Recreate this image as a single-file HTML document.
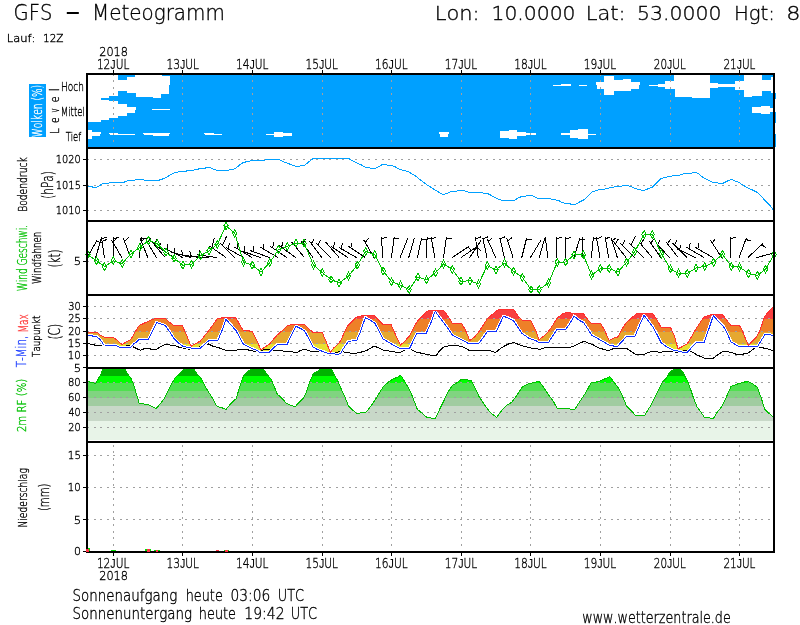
<!DOCTYPE html><html><head><meta charset="utf-8"><style>html,body{margin:0;padding:0;background:#fff;}svg{display:block}text{font-family:'DejaVu Sans', 'Liberation Sans', sans-serif;font-weight:200;font-kerning:none;stroke-width:0.35px;}</style></head><body>
<svg width="800" height="625" viewBox="0 0 800 625">
<rect x="0" y="0" width="800" height="625" fill="#fff"/>
<g shape-rendering="crispEdges"><rect x="88" y="75" width="685" height="72" fill="#00a0ff"/>
<rect x="88.00" y="75.00" width="13.00" height="46.80" fill="#fff"/>
<rect x="101.00" y="75.00" width="8.00" height="22.90" fill="#fff"/>
<rect x="101.00" y="99.90" width="8.00" height="19.90" fill="#fff"/>
<rect x="109.00" y="75.00" width="8.50" height="20.90" fill="#fff"/>
<rect x="109.00" y="101.00" width="8.50" height="17.00" fill="#fff"/>
<rect x="117.50" y="80.00" width="9.00" height="11.10" fill="#fff"/>
<rect x="117.50" y="103.80" width="9.00" height="12.20" fill="#fff"/>
<rect x="126.50" y="77.00" width="8.50" height="16.00" fill="#fff"/>
<rect x="126.50" y="107.00" width="8.50" height="6.00" fill="#fff"/>
<rect x="135.00" y="75.00" width="1.00" height="18.25" fill="#fff"/>
<rect x="135.00" y="107.00" width="1.00" height="3.00" fill="#fff"/>
<rect x="136.00" y="75.00" width="17.00" height="22.00" fill="#fff"/>
<rect x="153.00" y="75.00" width="8.00" height="22.75" fill="#fff"/>
<rect x="161.00" y="75.00" width="1.20" height="18.90" fill="#fff"/>
<rect x="162.20" y="75.90" width="6.80" height="18.00" fill="#fff"/>
<rect x="169.00" y="75.90" width="1.00" height="8.90" fill="#fff"/>
<rect x="152.20" y="108.90" width="17.80" height="1.10" fill="#fff"/>
<rect x="88.00" y="130.00" width="4.00" height="9.00" fill="#fff"/>
<rect x="88.00" y="132.00" width="13.00" height="2.00" fill="#fff"/>
<rect x="88.00" y="134.00" width="12.00" height="2.00" fill="#fff"/>
<rect x="109.20" y="132.80" width="8.80" height="1.20" fill="#fff"/>
<rect x="110.00" y="134.00" width="25.00" height="1.00" fill="#fff"/>
<rect x="143.00" y="132.90" width="27.00" height="1.00" fill="#fff"/>
<rect x="144.00" y="133.90" width="25.00" height="1.10" fill="#fff"/>
<rect x="153.00" y="135.00" width="16.00" height="1.00" fill="#fff"/>
<rect x="204.00" y="132.90" width="10.00" height="1.00" fill="#fff"/>
<rect x="205.00" y="133.90" width="17.00" height="1.00" fill="#fff"/>
<rect x="266.00" y="133.90" width="9.00" height="1.00" fill="#fff"/>
<rect x="274.40" y="132.00" width="8.70" height="4.75" fill="#fff"/>
<rect x="283.00" y="132.90" width="9.00" height="2.85" fill="#fff"/>
<rect x="439.00" y="132.00" width="10.00" height="2.00" fill="#fff"/>
<rect x="440.00" y="134.00" width="8.00" height="2.75" fill="#fff"/>
<rect x="500.00" y="131.00" width="8.50" height="7.00" fill="#fff"/>
<rect x="508.50" y="130.00" width="8.50" height="9.00" fill="#fff"/>
<rect x="517.00" y="132.00" width="9.00" height="4.00" fill="#fff"/>
<rect x="526.00" y="133.00" width="10.00" height="1.50" fill="#fff"/>
<rect x="553.00" y="84.75" width="8.00" height="1.00" fill="#fff"/>
<rect x="561.00" y="84.00" width="10.00" height="1.75" fill="#fff"/>
<rect x="579.00" y="84.75" width="8.00" height="1.00" fill="#fff"/>
<rect x="596.00" y="82.00" width="9.00" height="3.00" fill="#fff"/>
<rect x="597.00" y="85.00" width="8.00" height="4.00" fill="#fff"/>
<rect x="604.40" y="76.00" width="9.60" height="18.75" fill="#fff"/>
<rect x="614.00" y="79.75" width="8.50" height="11.00" fill="#fff"/>
<rect x="622.50" y="79.00" width="8.50" height="11.75" fill="#fff"/>
<rect x="631.00" y="82.00" width="9.00" height="3.00" fill="#fff"/>
<rect x="631.00" y="85.00" width="8.00" height="4.00" fill="#fff"/>
<rect x="561.00" y="133.00" width="10.00" height="1.50" fill="#fff"/>
<rect x="570.00" y="130.00" width="8.75" height="8.00" fill="#fff"/>
<rect x="578.00" y="129.00" width="9.75" height="10.00" fill="#fff"/>
<rect x="587.00" y="133.60" width="9.00" height="1.30" fill="#fff"/>
<rect x="649.00" y="84.75" width="8.50" height="1.00" fill="#fff"/>
<rect x="657.50" y="84.00" width="8.10" height="2.75" fill="#fff"/>
<rect x="665.00" y="81.00" width="9.00" height="8.00" fill="#fff"/>
<rect x="673.75" y="75.00" width="1.25" height="14.00" fill="#fff"/>
<rect x="675.00" y="75.00" width="17.00" height="22.00" fill="#fff"/>
<rect x="692.00" y="75.00" width="18.00" height="22.60" fill="#fff"/>
<rect x="709.00" y="83.00" width="9.00" height="4.60" fill="#fff"/>
<rect x="718.00" y="83.90" width="18.00" height="3.10" fill="#fff"/>
<rect x="735.00" y="80.70" width="10.00" height="9.30" fill="#fff"/>
<rect x="744.00" y="75.00" width="18.00" height="20.70" fill="#fff"/>
<rect x="744.00" y="95.70" width="8.00" height="1.30" fill="#fff"/>
<rect x="762.00" y="79.50" width="9.00" height="11.90" fill="#fff"/>
<rect x="771.00" y="77.00" width="2.00" height="15.60" fill="#fff"/>
<rect x="752.00" y="107.00" width="9.00" height="6.00" fill="#fff"/>
<rect x="761.00" y="106.00" width="9.00" height="7.80" fill="#fff"/>
<rect x="770.00" y="108.00" width="3.00" height="4.00" fill="#fff"/>
</g>
<defs><clipPath id="tband"><polygon points="88.00,332.20 96.40,332.20 98.40,333.40 100.80,335.40 104.40,337.40 113.20,337.40 116.40,339.60 122.00,344.60 126.00,342.00 130.40,340.00 133.20,335.60 136.00,330.60 139.10,325.60 143.50,323.50 148.50,321.25 152.25,319.40 156.00,318.50 165.40,318.50 169.75,322.50 174.10,325.60 182.25,325.60 186.00,333.75 191.00,346.25 196.00,343.50 200.40,341.00 204.75,335.60 209.75,329.40 217.25,318.75 223.50,317.50 236.00,317.70 238.50,322.50 242.90,330.00 247.25,330.60 252.25,331.50 256.60,340.00 261.00,350.00 266.00,346.25 269.75,344.00 272.25,340.60 277.25,335.00 282.25,330.60 287.25,325.60 292.25,324.40 304.10,324.40 307.90,327.75 312.90,332.50 322.25,332.50 326.00,341.25 330.40,352.50 333.50,348.10 336.00,346.25 340.40,341.25 343.50,334.40 347.25,326.25 351.60,321.90 356.00,317.50 359.75,316.25 363.50,315.25 374.10,315.25 378.50,320.00 382.90,324.40 391.00,324.40 395.40,334.40 400.40,345.00 404.75,341.25 409.75,335.60 413.50,328.10 417.25,321.25 422.25,316.25 426.60,311.50 431.00,310.25 443.50,310.25 447.90,316.25 452.25,323.10 461.60,323.10 465.40,330.00 469.75,340.60 474.75,336.90 479.75,330.60 487.25,318.75 492.25,314.40 497.25,310.25 501.00,309.40 513.50,309.40 519.10,317.50 522.25,320.00 530.40,320.00 536.00,331.25 539.10,339.75 543.50,336.25 548.50,331.25 552.90,325.00 557.25,318.10 561.60,314.40 566.00,312.50 569.75,312.50 571.00,313.10 582.90,313.10 586.60,318.10 591.00,323.10 600.40,323.10 604.75,330.60 609.10,340.60 613.50,338.10 617.90,336.90 622.25,328.75 626.00,323.10 631.00,318.50 636.00,314.00 640.40,313.10 652.25,313.10 656.00,318.10 661.00,327.25 670.40,327.25 674.10,335.00 677.90,348.75 682.90,346.25 687.25,343.75 691.00,337.50 696.00,328.75 699.75,323.10 704.10,316.90 711.00,314.60 722.40,314.60 726.00,319.20 731.00,325.60 739.50,325.60 742.00,330.00 746.00,340.00 748.50,345.50 752.00,341.50 756.00,337.50 759.00,332.50 762.00,324.50 764.50,316.50 768.00,312.50 773.00,307.00 774.50,335.50 770.00,334.80 765.00,334.50 761.00,341.00 758.00,346.00 738.00,346.00 731.00,342.00 727.25,333.50 723.30,326.10 718.30,321.10 713.30,315.80 708.50,330.00 704.10,342.25 696.60,342.25 691.60,347.50 687.25,352.50 683.50,352.50 679.10,351.25 673.50,350.25 666.00,346.50 661.00,342.50 656.60,333.75 652.90,326.90 648.50,321.25 644.10,315.25 639.75,325.00 636.00,333.75 634.75,336.25 626.60,336.25 622.25,341.25 617.90,346.00 613.50,346.00 609.10,345.00 599.75,339.75 591.60,335.00 587.25,328.10 583.50,322.50 579.75,320.60 574.10,316.25 569.75,323.75 566.00,329.00 557.25,329.00 548.50,342.50 538.50,342.50 536.00,340.60 529.75,338.75 521.60,333.10 513.50,320.60 508.50,318.10 503.50,316.25 496.00,331.90 487.25,331.90 478.50,344.00 469.10,343.75 457.90,338.10 452.25,335.00 447.25,327.50 441.60,320.00 435.20,311.20 431.00,322.50 426.00,333.75 416.60,334.00 409.75,348.10 399.10,348.10 391.00,343.75 382.90,338.75 379.10,331.25 374.75,323.10 369.75,320.00 365.40,317.50 360.40,331.90 356.60,340.60 348.50,341.25 344.10,347.50 340.40,353.75 336.00,354.40 332.25,353.10 328.50,353.50 322.25,351.25 317.25,349.40 312.90,346.90 308.50,338.10 304.75,331.25 301.00,328.75 296.00,326.25 291.60,335.00 287.25,344.00 277.90,344.00 273.50,348.10 269.10,352.25 259.75,352.25 256.00,350.00 251.00,348.10 243.50,344.40 239.75,337.50 236.00,330.60 231.00,325.00 226.00,319.40 222.25,330.00 217.90,340.25 209.10,340.25 204.75,344.40 200.40,348.10 191.00,348.10 182.90,346.25 178.50,343.10 174.10,338.75 169.75,331.90 165.40,325.60 161.00,324.00 156.60,322.50 152.25,331.25 148.50,339.40 139.10,339.40 136.00,342.50 134.00,343.60 130.80,347.40 120.40,347.40 117.20,346.40 115.60,345.20 104.00,345.00 100.00,339.60 96.40,336.40 92.40,336.20 92.00,335.60 88.00,335.40"/></clipPath>
<clipPath id="rhclip"><polygon points="87.90,381.10 91.00,382.40 96.00,383.30 98.00,379.50 101.00,374.00 103.00,369.25 125.00,369.25 128.00,374.50 131.00,378.50 133.00,383.00 135.50,391.00 139.10,403.00 141.60,403.60 147.90,404.50 156.00,408.60 161.00,403.00 165.40,396.75 169.10,388.60 172.90,381.75 176.00,376.75 181.00,371.75 183.50,369.25 186.00,368.90 190.40,368.40 194.10,369.75 197.25,374.10 201.60,379.10 204.75,385.40 207.90,391.00 212.25,397.90 216.60,406.00 219.10,407.00 222.25,407.90 226.00,409.50 230.40,404.10 236.00,398.75 238.50,391.00 241.60,381.00 244.10,374.75 248.50,371.00 252.90,368.60 259.75,368.40 263.50,368.90 267.25,374.75 271.00,379.10 273.50,384.75 277.25,394.10 282.25,398.50 286.00,403.10 290.40,405.40 295.40,406.60 298.50,402.90 302.90,398.75 306.00,392.90 309.10,383.50 312.90,374.75 313.50,373.25 317.25,371.60 321.00,369.10 331.60,369.10 334.10,374.75 337.25,379.75 341.00,388.50 344.75,396.60 348.50,406.00 352.25,409.75 356.60,413.50 361.00,412.90 366.00,412.25 371.00,406.00 376.00,398.50 379.75,392.25 383.50,386.60 386.00,384.10 389.10,381.60 392.90,379.10 397.25,377.25 400.75,375.40 404.75,381.60 408.50,387.90 412.25,396.00 417.25,409.10 421.60,412.90 426.60,417.25 430.40,417.25 431.60,418.25 435.40,418.25 439.75,409.10 443.50,401.60 447.25,393.50 452.25,385.40 456.00,383.25 461.00,379.75 464.10,379.10 466.00,379.75 471.00,380.40 474.75,387.25 479.10,396.60 482.90,402.25 486.00,407.00 491.00,413.25 496.60,417.25 502.25,409.75 506.60,405.40 511.60,402.25 517.25,394.75 522.25,387.25 524.75,385.40 529.10,383.75 533.50,382.50 539.10,381.25 543.50,387.25 548.50,394.75 553.50,401.60 557.25,408.50 568.50,408.50 571.00,409.50 574.75,409.50 579.75,401.60 586.00,392.25 591.00,382.90 598.50,381.60 603.50,379.50 609.75,376.60 616.00,384.75 619.10,389.10 622.90,397.25 626.60,406.00 631.00,410.40 635.40,415.40 644.75,415.40 650.40,406.00 654.75,397.90 658.50,390.40 662.25,382.25 666.00,378.50 668.50,374.10 672.25,370.40 677.90,368.20 682.25,371.00 686.00,378.50 687.90,381.60 691.00,390.40 693.50,397.90 697.25,407.25 701.00,412.25 704.10,417.00 708.50,417.25 711.00,418.25 713.50,418.25 717.25,412.25 722.25,406.00 726.00,397.90 731.00,386.60 736.00,384.50 742.25,382.50 747.90,381.25 752.25,383.50 757.25,387.25 761.00,397.25 764.75,409.10 768.50,412.90 773.50,417.25 773.50,440.00 88.00,440.00 88.00,381.00"/></clipPath></defs>
<g clip-path="url(#tband)" shape-rendering="crispEdges">
<rect x="88" y="296" width="685" height="22.5" fill="#f84040"/>
<rect x="88" y="318.5" width="685" height="13.0" fill="#ee8028"/>
<rect x="88" y="331.5" width="685" height="12.0" fill="#e6a830"/>
<rect x="88" y="343.5" width="685" height="23.5" fill="#e8e030"/>
</g>
<g clip-path="url(#rhclip)" shape-rendering="crispEdges">
<rect x="88" y="369" width="685" height="6.75" fill="#00b400"/>
<rect x="88" y="375.75" width="685" height="7.25" fill="#00ff00"/>
<rect x="88" y="383" width="685" height="8" fill="#50e050"/>
<rect x="88" y="391" width="685" height="7.25" fill="#80d480"/>
<rect x="88" y="398.25" width="685" height="7.5" fill="#a0cca0"/>
<rect x="88" y="405.75" width="685" height="15.0" fill="#c8d8c8"/>
<rect x="88" y="420.75" width="685" height="19.25" fill="#e8f4e8"/>
</g>
<g stroke="#a0a0a0" stroke-width="1" shape-rendering="crispEdges">
<line x1="113.5" y1="73.5" x2="113.5" y2="147" stroke-dasharray="2,4.65"/>
<line x1="113.5" y1="443" x2="113.5" y2="551" stroke-dasharray="2,4.63" stroke-dashoffset="5.1"/>
<line x1="182.5" y1="73.5" x2="182.5" y2="147" stroke-dasharray="2,4.65"/>
<line x1="182.5" y1="443" x2="182.5" y2="551" stroke-dasharray="2,4.63" stroke-dashoffset="5.1"/>
<line x1="252.5" y1="73.5" x2="252.5" y2="147" stroke-dasharray="2,4.65"/>
<line x1="252.5" y1="443" x2="252.5" y2="551" stroke-dasharray="2,4.63" stroke-dashoffset="5.1"/>
<line x1="322.5" y1="73.5" x2="322.5" y2="147" stroke-dasharray="2,4.65"/>
<line x1="322.5" y1="443" x2="322.5" y2="551" stroke-dasharray="2,4.63" stroke-dashoffset="5.1"/>
<line x1="391.5" y1="73.5" x2="391.5" y2="147" stroke-dasharray="2,4.65"/>
<line x1="391.5" y1="443" x2="391.5" y2="551" stroke-dasharray="2,4.63" stroke-dashoffset="5.1"/>
<line x1="461.5" y1="73.5" x2="461.5" y2="147" stroke-dasharray="2,4.65"/>
<line x1="461.5" y1="443" x2="461.5" y2="551" stroke-dasharray="2,4.63" stroke-dashoffset="5.1"/>
<line x1="530.5" y1="73.5" x2="530.5" y2="147" stroke-dasharray="2,4.65"/>
<line x1="530.5" y1="443" x2="530.5" y2="551" stroke-dasharray="2,4.63" stroke-dashoffset="5.1"/>
<line x1="600.5" y1="73.5" x2="600.5" y2="147" stroke-dasharray="2,4.65"/>
<line x1="600.5" y1="443" x2="600.5" y2="551" stroke-dasharray="2,4.63" stroke-dashoffset="5.1"/>
<line x1="670.5" y1="73.5" x2="670.5" y2="147" stroke-dasharray="2,4.65"/>
<line x1="670.5" y1="443" x2="670.5" y2="551" stroke-dasharray="2,4.63" stroke-dashoffset="5.1"/>
<line x1="739.5" y1="73.5" x2="739.5" y2="147" stroke-dasharray="2,4.65"/>
<line x1="739.5" y1="443" x2="739.5" y2="551" stroke-dasharray="2,4.63" stroke-dashoffset="5.1"/>
<line x1="87" y1="159.5" x2="773" y2="159.5" stroke-dasharray="2,4.545"/>
<line x1="87" y1="185.5" x2="773" y2="185.5" stroke-dasharray="2,4.545"/>
<line x1="87" y1="210.5" x2="773" y2="210.5" stroke-dasharray="2,4.545"/>
<line x1="87" y1="261.5" x2="773" y2="261.5" stroke-dasharray="2,4.545"/>
<line x1="87" y1="306.5" x2="773" y2="306.5" stroke-dasharray="2,4.545"/>
<line x1="87" y1="318.5" x2="773" y2="318.5" stroke-dasharray="2,4.545"/>
<line x1="87" y1="331.5" x2="773" y2="331.5" stroke-dasharray="2,4.545"/>
<line x1="87" y1="343.5" x2="773" y2="343.5" stroke-dasharray="2,4.545"/>
<line x1="87" y1="355.5" x2="773" y2="355.5" stroke-dasharray="2,4.545"/>
<line x1="87" y1="382.5" x2="773" y2="382.5" stroke-dasharray="2,4.545"/>
<line x1="87" y1="397.5" x2="773" y2="397.5" stroke-dasharray="2,4.545"/>
<line x1="87" y1="412.5" x2="773" y2="412.5" stroke-dasharray="2,4.545"/>
<line x1="87" y1="427.5" x2="773" y2="427.5" stroke-dasharray="2,4.545"/>
<line x1="87" y1="455.5" x2="773" y2="455.5" stroke-dasharray="2,4.545"/>
<line x1="87" y1="487.5" x2="773" y2="487.5" stroke-dasharray="2,4.545"/>
<line x1="87" y1="519.5" x2="773" y2="519.5" stroke-dasharray="2,4.545"/>
</g>
<g shape-rendering="crispEdges"><polyline points="88.00,186.25 91.60,186.50 92.90,187.25 96.60,187.25 99.75,185.60 102.90,183.50 108.50,183.25 109.75,182.40 123.50,182.40 126.00,181.40 128.50,180.50 134.75,180.40 136.00,179.50 143.50,179.50 144.75,180.40 158.50,180.40 161.00,179.50 164.00,178.50 166.60,177.50 169.10,175.60 172.25,173.75 174.75,172.50 177.90,172.25 179.10,171.40 186.00,171.25 187.25,170.40 193.50,170.40 194.75,169.50 197.90,169.40 199.10,168.50 204.75,168.50 206.00,167.50 210.40,167.50 212.90,169.00 216.00,170.00 217.25,170.40 228.50,170.40 229.75,169.50 232.90,169.40 235.40,168.40 237.90,166.50 241.00,163.75 243.50,162.50 246.00,161.90 249.75,161.25 251.00,160.40 264.10,160.40 265.40,159.50 278.50,159.50 281.00,160.25 283.50,161.90 286.00,162.80 288.50,163.50 291.60,165.00 295.40,166.25 299.10,166.25 301.00,165.40 304.75,165.25 307.90,162.50 313.50,158.40 348.50,158.40 352.25,160.60 356.00,162.50 361.00,164.75 365.40,167.25 369.10,167.50 371.00,168.50 375.40,168.50 378.50,166.90 382.25,164.50 386.00,164.50 387.90,165.25 392.25,165.50 396.00,167.25 399.75,169.40 404.75,170.75 408.50,171.90 412.25,174.00 416.00,176.25 419.75,179.40 423.50,182.25 427.25,185.00 431.00,187.25 436.00,190.60 439.75,192.75 442.90,194.40 444.75,194.00 448.50,192.75 451.60,191.50 456.60,191.25 458.50,190.40 463.50,190.40 466.00,191.25 469.10,192.25 482.25,192.50 483.50,193.25 486.00,193.40 488.50,194.00 492.25,196.00 496.00,198.10 498.50,199.40 502.25,200.40 514.10,200.40 517.25,198.50 521.60,196.50 525.40,196.25 527.25,195.40 531.00,195.40 533.50,196.25 536.00,197.50 538.50,198.40 549.75,198.40 552.25,199.40 558.50,200.40 562.25,202.50 564.75,203.40 569.75,203.50 571.00,204.50 575.40,204.50 578.50,202.50 582.25,200.60 584.75,199.40 586.00,197.80 589.10,194.75 592.25,191.90 596.00,190.60 599.75,189.50 604.75,189.00 606.00,188.50 611.00,187.75 615.40,186.50 621.00,186.25 623.50,185.40 627.25,185.40 631.00,186.50 634.75,188.25 638.50,189.40 642.25,190.25 644.75,190.25 648.50,188.50 652.25,187.50 656.60,182.75 661.00,178.50 664.75,177.50 669.75,176.25 674.75,175.60 680.40,175.00 681.90,174.40 685.60,173.40 691.25,173.25 693.10,172.40 696.25,172.40 699.40,174.40 702.50,177.10 706.25,179.00 710.00,181.00 712.50,182.25 716.90,182.50 718.75,183.25 723.10,183.25 726.90,181.25 731.25,179.40 735.00,180.90 738.75,182.25 741.90,184.40 746.90,187.50 751.25,189.40 757.50,192.50 761.25,196.25 766.25,201.90 770.00,205.60 773.10,209.75 775.00,211.25" fill="none" stroke="#00a0ff" stroke-width="1"/></g>
<g shape-rendering="crispEdges" fill="none">
<polyline points="88.00,343.00 90.40,344.40 94.00,344.40 94.40,345.40 104.00,345.40 114.00,345.20 122.00,346.40 125.20,346.40 127.60,345.20 130.80,345.20 133.20,346.80 136.00,348.30 140.40,350.25 144.10,348.75 147.90,348.40 152.25,349.40 156.00,349.40 160.40,346.90 166.00,344.00 169.75,345.00 174.75,345.60 179.10,347.25 183.50,348.10 187.90,349.00 192.25,349.00 201.00,346.25 208.50,344.00 212.90,346.25 217.25,347.25 226.00,350.25 236.00,350.30 239.75,349.40 246.60,349.40 249.75,350.40 259.10,351.90 264.75,349.40 269.75,349.40 274.10,350.25 282.25,350.40 283.50,351.25 291.60,351.90 297.25,352.25 301.00,350.25 304.75,349.40 309.75,351.00 316.00,351.25 323.50,352.50 328.50,354.00 336.00,352.50 341.00,351.25 346.00,352.50 354.75,353.50 359.75,352.50 366.60,350.60 374.10,346.00 379.10,348.10 384.75,350.60 391.00,351.25 397.25,352.50 401.60,351.90 406.00,349.40 409.75,348.75 416.00,351.90 423.50,353.75 431.00,355.25 436.00,356.00 439.75,350.60 443.50,347.25 451.00,345.25 456.00,345.60 462.25,346.50 469.10,350.25 488.50,350.25 495.40,352.50 502.25,347.25 508.50,344.00 513.50,342.50 518.50,344.40 524.75,346.50 531.00,348.10 536.00,348.50 539.75,349.40 546.60,347.25 569.75,347.25 574.10,346.00 579.10,343.50 584.10,341.25 588.50,343.10 593.50,345.00 599.10,348.10 608.50,350.60 614.75,348.10 626.00,348.10 629.75,350.60 636.00,354.50 644.10,354.40 648.50,352.50 652.25,351.25 656.60,351.50 659.10,352.50 667.25,351.25 673.50,351.90 677.90,352.25 682.25,351.25 686.00,350.25 691.00,351.25 697.25,355.00 704.10,358.10 713.50,358.10 718.50,354.30 723.30,351.20 726.50,351.80 731.00,352.20 738.00,355.00 743.50,354.00 748.00,353.00 753.00,349.50 757.00,346.50 761.00,347.50 766.00,348.50 773.00,350.50" stroke="#000" stroke-width="1"/>
<polyline points="88.00,335.40 92.00,335.60 92.40,336.20 96.40,336.40 100.00,339.60 104.00,345.00 115.60,345.20 117.20,346.40 120.40,347.40 130.80,347.40 134.00,343.60 136.00,342.50 139.10,339.40 148.50,339.40 152.25,331.25 156.60,322.50 161.00,324.00 165.40,325.60 169.75,331.90 174.10,338.75 178.50,343.10 182.90,346.25 191.00,348.10 200.40,348.10 204.75,344.40 209.10,340.25 217.90,340.25 222.25,330.00 226.00,319.40 231.00,325.00 236.00,330.60 239.75,337.50 243.50,344.40 251.00,348.10 256.00,350.00 259.75,352.25 269.10,352.25 273.50,348.10 277.90,344.00 287.25,344.00 291.60,335.00 296.00,326.25 301.00,328.75 304.75,331.25 308.50,338.10 312.90,346.90 317.25,349.40 322.25,351.25 328.50,353.50 332.25,353.10 336.00,354.40 340.40,353.75 344.10,347.50 348.50,341.25 356.60,340.60 360.40,331.90 365.40,317.50 369.75,320.00 374.75,323.10 379.10,331.25 382.90,338.75 391.00,343.75 399.10,348.10 409.75,348.10 416.60,334.00 426.00,333.75 431.00,322.50 435.20,311.20 441.60,320.00 447.25,327.50 452.25,335.00 457.90,338.10 469.10,343.75 478.50,344.00 487.25,331.90 496.00,331.90 503.50,316.25 508.50,318.10 513.50,320.60 521.60,333.10 529.75,338.75 536.00,340.60 538.50,342.50 548.50,342.50 557.25,329.00 566.00,329.00 569.75,323.75 574.10,316.25 579.75,320.60 583.50,322.50 587.25,328.10 591.60,335.00 599.75,339.75 609.10,345.00 613.50,346.00 617.90,346.00 622.25,341.25 626.60,336.25 634.75,336.25 636.00,333.75 639.75,325.00 644.10,315.25 648.50,321.25 652.90,326.90 656.60,333.75 661.00,342.50 666.00,346.50 673.50,350.25 679.10,351.25 683.50,352.50 687.25,352.50 691.60,347.50 696.60,342.25 704.10,342.25 708.50,330.00 713.30,315.80 718.30,321.10 723.30,326.10 727.25,333.50 731.00,342.00 738.00,346.00 758.00,346.00 761.00,341.00 765.00,334.50 770.00,334.80 774.50,335.50" stroke="#fff" stroke-width="3"/>
<polyline points="88.00,335.40 92.00,335.60 92.40,336.20 96.40,336.40 100.00,339.60 104.00,345.00 115.60,345.20 117.20,346.40 120.40,347.40 130.80,347.40 134.00,343.60 136.00,342.50 139.10,339.40 148.50,339.40 152.25,331.25 156.60,322.50 161.00,324.00 165.40,325.60 169.75,331.90 174.10,338.75 178.50,343.10 182.90,346.25 191.00,348.10 200.40,348.10 204.75,344.40 209.10,340.25 217.90,340.25 222.25,330.00 226.00,319.40 231.00,325.00 236.00,330.60 239.75,337.50 243.50,344.40 251.00,348.10 256.00,350.00 259.75,352.25 269.10,352.25 273.50,348.10 277.90,344.00 287.25,344.00 291.60,335.00 296.00,326.25 301.00,328.75 304.75,331.25 308.50,338.10 312.90,346.90 317.25,349.40 322.25,351.25 328.50,353.50 332.25,353.10 336.00,354.40 340.40,353.75 344.10,347.50 348.50,341.25 356.60,340.60 360.40,331.90 365.40,317.50 369.75,320.00 374.75,323.10 379.10,331.25 382.90,338.75 391.00,343.75 399.10,348.10 409.75,348.10 416.60,334.00 426.00,333.75 431.00,322.50 435.20,311.20 441.60,320.00 447.25,327.50 452.25,335.00 457.90,338.10 469.10,343.75 478.50,344.00 487.25,331.90 496.00,331.90 503.50,316.25 508.50,318.10 513.50,320.60 521.60,333.10 529.75,338.75 536.00,340.60 538.50,342.50 548.50,342.50 557.25,329.00 566.00,329.00 569.75,323.75 574.10,316.25 579.75,320.60 583.50,322.50 587.25,328.10 591.60,335.00 599.75,339.75 609.10,345.00 613.50,346.00 617.90,346.00 622.25,341.25 626.60,336.25 634.75,336.25 636.00,333.75 639.75,325.00 644.10,315.25 648.50,321.25 652.90,326.90 656.60,333.75 661.00,342.50 666.00,346.50 673.50,350.25 679.10,351.25 683.50,352.50 687.25,352.50 691.60,347.50 696.60,342.25 704.10,342.25 708.50,330.00 713.30,315.80 718.30,321.10 723.30,326.10 727.25,333.50 731.00,342.00 738.00,346.00 758.00,346.00 761.00,341.00 765.00,334.50 770.00,334.80 774.50,335.50" stroke="#1030ff" stroke-width="1"/>
<polyline points="88.00,332.20 96.40,332.20 98.40,333.40 100.80,335.40 104.40,337.40 113.20,337.40 116.40,339.60 122.00,344.60 126.00,342.00 130.40,340.00 133.20,335.60 136.00,330.60 139.10,325.60 143.50,323.50 148.50,321.25 152.25,319.40 156.00,318.50 165.40,318.50 169.75,322.50 174.10,325.60 182.25,325.60 186.00,333.75 191.00,346.25 196.00,343.50 200.40,341.00 204.75,335.60 209.75,329.40 217.25,318.75 223.50,317.50 236.00,317.70 238.50,322.50 242.90,330.00 247.25,330.60 252.25,331.50 256.60,340.00 261.00,350.00 266.00,346.25 269.75,344.00 272.25,340.60 277.25,335.00 282.25,330.60 287.25,325.60 292.25,324.40 304.10,324.40 307.90,327.75 312.90,332.50 322.25,332.50 326.00,341.25 330.40,352.50 333.50,348.10 336.00,346.25 340.40,341.25 343.50,334.40 347.25,326.25 351.60,321.90 356.00,317.50 359.75,316.25 363.50,315.25 374.10,315.25 378.50,320.00 382.90,324.40 391.00,324.40 395.40,334.40 400.40,345.00 404.75,341.25 409.75,335.60 413.50,328.10 417.25,321.25 422.25,316.25 426.60,311.50 431.00,310.25 443.50,310.25 447.90,316.25 452.25,323.10 461.60,323.10 465.40,330.00 469.75,340.60 474.75,336.90 479.75,330.60 487.25,318.75 492.25,314.40 497.25,310.25 501.00,309.40 513.50,309.40 519.10,317.50 522.25,320.00 530.40,320.00 536.00,331.25 539.10,339.75 543.50,336.25 548.50,331.25 552.90,325.00 557.25,318.10 561.60,314.40 566.00,312.50 569.75,312.50 571.00,313.10 582.90,313.10 586.60,318.10 591.00,323.10 600.40,323.10 604.75,330.60 609.10,340.60 613.50,338.10 617.90,336.90 622.25,328.75 626.00,323.10 631.00,318.50 636.00,314.00 640.40,313.10 652.25,313.10 656.00,318.10 661.00,327.25 670.40,327.25 674.10,335.00 677.90,348.75 682.90,346.25 687.25,343.75 691.00,337.50 696.00,328.75 699.75,323.10 704.10,316.90 711.00,314.60 722.40,314.60 726.00,319.20 731.00,325.60 739.50,325.60 742.00,330.00 746.00,340.00 748.50,345.50 752.00,341.50 756.00,337.50 759.00,332.50 762.00,324.50 764.50,316.50 768.00,312.50 773.00,307.00" stroke="#ff3030" stroke-width="1"/>
<polyline points="87.90,381.10 91.00,382.40 96.00,383.30 98.00,379.50 101.00,374.00 103.00,369.25 125.00,369.25 128.00,374.50 131.00,378.50 133.00,383.00 135.50,391.00 139.10,403.00 141.60,403.60 147.90,404.50 156.00,408.60 161.00,403.00 165.40,396.75 169.10,388.60 172.90,381.75 176.00,376.75 181.00,371.75 183.50,369.25 186.00,368.90 190.40,368.40 194.10,369.75 197.25,374.10 201.60,379.10 204.75,385.40 207.90,391.00 212.25,397.90 216.60,406.00 219.10,407.00 222.25,407.90 226.00,409.50 230.40,404.10 236.00,398.75 238.50,391.00 241.60,381.00 244.10,374.75 248.50,371.00 252.90,368.60 259.75,368.40 263.50,368.90 267.25,374.75 271.00,379.10 273.50,384.75 277.25,394.10 282.25,398.50 286.00,403.10 290.40,405.40 295.40,406.60 298.50,402.90 302.90,398.75 306.00,392.90 309.10,383.50 312.90,374.75 313.50,373.25 317.25,371.60 321.00,369.10 331.60,369.10 334.10,374.75 337.25,379.75 341.00,388.50 344.75,396.60 348.50,406.00 352.25,409.75 356.60,413.50 361.00,412.90 366.00,412.25 371.00,406.00 376.00,398.50 379.75,392.25 383.50,386.60 386.00,384.10 389.10,381.60 392.90,379.10 397.25,377.25 400.75,375.40 404.75,381.60 408.50,387.90 412.25,396.00 417.25,409.10 421.60,412.90 426.60,417.25 430.40,417.25 431.60,418.25 435.40,418.25 439.75,409.10 443.50,401.60 447.25,393.50 452.25,385.40 456.00,383.25 461.00,379.75 464.10,379.10 466.00,379.75 471.00,380.40 474.75,387.25 479.10,396.60 482.90,402.25 486.00,407.00 491.00,413.25 496.60,417.25 502.25,409.75 506.60,405.40 511.60,402.25 517.25,394.75 522.25,387.25 524.75,385.40 529.10,383.75 533.50,382.50 539.10,381.25 543.50,387.25 548.50,394.75 553.50,401.60 557.25,408.50 568.50,408.50 571.00,409.50 574.75,409.50 579.75,401.60 586.00,392.25 591.00,382.90 598.50,381.60 603.50,379.50 609.75,376.60 616.00,384.75 619.10,389.10 622.90,397.25 626.60,406.00 631.00,410.40 635.40,415.40 644.75,415.40 650.40,406.00 654.75,397.90 658.50,390.40 662.25,382.25 666.00,378.50 668.50,374.10 672.25,370.40 677.90,368.20 682.25,371.00 686.00,378.50 687.90,381.60 691.00,390.40 693.50,397.90 697.25,407.25 701.00,412.25 704.10,417.00 708.50,417.25 711.00,418.25 713.50,418.25 717.25,412.25 722.25,406.00 726.00,397.90 731.00,386.60 736.00,384.50 742.25,382.50 747.90,381.25 752.25,383.50 757.25,387.25 761.00,397.25 764.75,409.10 768.50,412.90 773.50,417.25" stroke="#00c000" stroke-width="1"/>
</g>
<path shape-rendering="crispEdges" d="M87.00,257.60L97.25,239.85 M96.50,241.15L101.73,242.85 M95.69,257.60L101.35,237.89 M104.39,257.60L101.54,237.30 M101.75,238.78L106.44,237.07 M102.09,241.26L106.79,239.55 M113.09,257.60L113.44,237.10 M113.42,238.60L118.82,237.55 M121.78,257.60L111.53,239.85 M113.03,242.44L116.57,238.23 M130.47,257.60L123.46,238.34 M124.49,241.16L128.70,237.62 M139.17,257.60L141.67,237.25 M141.49,238.74L146.96,238.26 M147.87,257.60L140.19,238.59 M141.31,241.37L145.40,237.69 M156.56,257.60L146.00,240.03 M147.55,242.60L151.01,238.33 M165.25,257.60L152.08,241.90 M154.01,244.19L156.76,239.43 M173.95,257.60L156.76,246.43 M159.27,248.07L160.51,242.71 M182.65,257.60L164.54,247.98 M167.19,249.38L167.96,243.94 M191.34,257.60L171.54,252.29 M174.44,253.07L173.96,247.59 M200.03,257.60L179.73,254.75 M182.71,255.16L181.56,249.78 M208.73,257.60L188.28,256.17 M191.27,256.38L189.76,251.09 M217.43,257.60L197.12,254.75 M200.10,255.16L198.95,249.78 M226.12,257.60L209.33,245.84 M211.78,247.56L214.37,237.90 M234.81,257.60L220.32,243.10 M222.44,245.23L226.67,236.16 M243.51,257.60L225.76,247.35 M228.35,248.85L229.31,243.43 M252.21,257.60L234.63,247.04 M237.20,248.59L238.25,243.19 M260.90,257.60L241.52,250.93 M244.35,251.90L244.26,246.40 M269.60,257.60L250.33,250.59 M253.15,251.61L253.15,246.11 M278.29,257.60L260.54,247.35 M263.13,248.85L264.09,243.43 M286.99,257.60L269.99,246.14 M272.48,247.81L273.81,242.48 M295.68,257.60L279.10,245.55 M281.52,247.31L283.04,242.03 M304.38,257.60L291.47,241.67 M293.36,244.00L296.19,239.29 M313.07,257.60L301.02,241.02 M302.78,243.44L305.86,238.88 M321.76,257.60L309.43,241.23 M311.23,243.62L314.23,239.01 M330.46,257.60L315.96,243.10 M318.09,245.23L320.41,240.24 M339.15,257.60L325.71,242.13 M347.85,257.60L330.85,246.14 M333.34,247.81L334.67,242.48 M356.55,257.60L338.79,247.35 M341.39,248.85L342.34,243.43 M365.24,257.60L348.24,246.14 M350.73,247.81L352.06,242.48 M373.94,257.60L363.69,239.85 M365.19,242.44L368.72,238.23 M382.63,257.60L381.56,237.13 M381.64,238.63L386.95,237.20 M391.32,257.60L394.18,237.30 M393.97,238.78L399.46,238.40 M400.02,257.60L407.70,238.59 M408.72,257.60L414.37,237.89 M417.41,257.60L421.67,237.55 M421.36,239.02L426.86,239.02 M426.11,257.60L427.18,237.13 M427.10,238.63L432.53,237.77 M434.80,257.60L431.24,237.41 M431.50,238.89L436.60,236.83 M443.50,257.60L446.35,237.30 M446.14,238.78L451.63,238.40 M452.19,257.60L469.19,246.14 M467.94,246.98L471.90,250.80 M460.88,257.60L477.88,246.14 M476.64,246.98L480.59,250.80 M469.58,257.60L481.04,240.60 M478.28,257.60L475.42,237.30 M475.63,238.78L480.80,236.90 M486.97,257.60L482.71,237.55 M483.02,239.02L488.04,236.78 M495.67,257.60L487.33,238.87 M488.55,241.61L492.50,237.79 M504.36,257.60L499.75,237.63 M500.09,239.09L505.07,236.76 M513.06,257.60L506.72,238.10 M507.65,240.96L511.98,237.57 M521.75,257.60L526.71,237.71 M526.35,239.16L531.84,239.36 M530.44,257.60L541.00,240.03 M539.14,257.60L544.79,237.89 M547.84,257.60L545.34,237.25 M556.53,257.60L556.53,237.10 M556.53,238.60L561.91,237.46 M565.23,257.60L565.58,237.10 M565.56,238.60L570.96,237.55 M573.92,257.60L579.91,238.00 M579.48,239.43L584.95,239.91 M582.62,257.60L582.62,237.10 M591.31,257.60L593.45,237.21 M593.30,238.70L598.77,238.13 M600.00,257.60L596.45,237.41 M596.71,238.89L601.81,236.83 M608.70,257.60L605.14,237.41 M605.40,238.89L610.50,236.83 M617.39,257.60L611.06,238.10 M611.99,240.96L616.32,237.57 M626.09,257.60L613.47,241.45 M615.32,243.81L618.23,239.15 M634.78,257.60L620.29,243.10 M622.41,245.23L624.74,240.24 M643.48,257.60L628.98,243.10 M631.11,245.23L635.33,236.16 M652.18,257.60L639.00,241.90 M640.93,244.19L645.93,235.53 M660.87,257.60L649.11,240.81 M650.83,243.26L653.99,238.76 M669.57,257.60L655.58,242.61 M657.63,244.80L660.13,239.90 M678.26,257.60L665.64,241.45 M667.49,243.81L670.40,239.15 M686.96,257.60L672.46,243.10 M674.58,245.23L676.91,240.24 M695.65,257.60L677.07,248.94 M679.79,250.20L680.27,244.73 M704.35,257.60L686.59,247.35 M689.19,248.85L690.14,243.43 M713.04,257.60L695.29,247.35 M697.88,248.85L698.84,243.43 M721.74,257.60L710.57,240.41 M712.20,242.92L715.51,238.53 M730.43,257.60L730.43,237.10 M730.43,238.60L735.81,237.46 M739.12,257.60L746.14,238.34 M745.62,239.75L751.07,240.51 M747.82,257.60L762.81,243.62 M761.72,244.64L766.22,247.80 M756.51,257.60L771.97,253.46" stroke="#000" stroke-width="1" fill="none"/>
<g shape-rendering="crispEdges" fill="none" stroke="#00c000" stroke-width="1">
<polyline points="87.90,254.75 96.60,260.75 104.50,266.60 113.25,260.75 122.25,263.50 131.00,253.75 139.75,247.50 148.50,240.50 157.25,243.70 166.00,252.30 174.10,258.40 182.90,265.20 191.60,264.25 200.40,255.75 209.10,250.75 217.25,244.50 226.00,225.75 234.75,233.25 243.50,262.00 252.25,265.10 261.00,272.00 269.75,262.60 278.50,249.50 287.25,246.40 296.00,243.25 304.10,243.25 313.50,265.10 322.25,272.60 331.00,279.50 339.10,283.00 348.50,276.00 357.25,265.10 365.75,251.40 374.75,254.75 383.25,271.00 391.60,281.75 400.40,285.10 409.10,289.50 417.90,277.00 426.60,279.75 435.40,272.90 443.50,263.90 452.25,269.25 461.00,281.40 470.00,280.75 478.50,283.90 487.25,265.75 496.00,269.75 504.50,263.25 513.50,271.40 522.25,277.25 531.00,289.50 539.10,289.50 548.50,283.00 557.25,262.25 565.75,262.00 574.10,254.75 583.25,254.75 591.60,275.10 600.40,268.50 609.10,268.50 617.90,272.00 626.60,262.25 634.75,251.60 644.10,234.50 652.25,234.50 661.60,253.90 670.40,268.90 678.50,273.25 687.25,273.25 696.00,268.00 704.75,266.40 713.60,262.40 722.40,254.20 731.40,266.40 739.60,267.00 748.50,273.50 757.40,275.25 765.70,269.10 774.00,254.50"/>
<polygon points="87.90,250.95 90.10,254.75 87.90,258.55 85.70,254.75"/>
<polygon points="96.60,256.95 98.80,260.75 96.60,264.55 94.40,260.75"/>
<polygon points="104.50,262.80 106.70,266.60 104.50,270.40 102.30,266.60"/>
<polygon points="113.25,256.95 115.45,260.75 113.25,264.55 111.05,260.75"/>
<polygon points="122.25,259.70 124.45,263.50 122.25,267.30 120.05,263.50"/>
<polygon points="131.00,249.95 133.20,253.75 131.00,257.55 128.80,253.75"/>
<polygon points="139.75,243.70 141.95,247.50 139.75,251.30 137.55,247.50"/>
<polygon points="148.50,236.70 150.70,240.50 148.50,244.30 146.30,240.50"/>
<polygon points="157.25,239.90 159.45,243.70 157.25,247.50 155.05,243.70"/>
<polygon points="166.00,248.50 168.20,252.30 166.00,256.10 163.80,252.30"/>
<polygon points="174.10,254.60 176.30,258.40 174.10,262.20 171.90,258.40"/>
<polygon points="182.90,261.40 185.10,265.20 182.90,269.00 180.70,265.20"/>
<polygon points="191.60,260.45 193.80,264.25 191.60,268.05 189.40,264.25"/>
<polygon points="200.40,251.95 202.60,255.75 200.40,259.55 198.20,255.75"/>
<polygon points="209.10,246.95 211.30,250.75 209.10,254.55 206.90,250.75"/>
<polygon points="217.25,240.70 219.45,244.50 217.25,248.30 215.05,244.50"/>
<polygon points="226.00,221.95 228.20,225.75 226.00,229.55 223.80,225.75"/>
<polygon points="234.75,229.45 236.95,233.25 234.75,237.05 232.55,233.25"/>
<polygon points="243.50,258.20 245.70,262.00 243.50,265.80 241.30,262.00"/>
<polygon points="252.25,261.30 254.45,265.10 252.25,268.90 250.05,265.10"/>
<polygon points="261.00,268.20 263.20,272.00 261.00,275.80 258.80,272.00"/>
<polygon points="269.75,258.80 271.95,262.60 269.75,266.40 267.55,262.60"/>
<polygon points="278.50,245.70 280.70,249.50 278.50,253.30 276.30,249.50"/>
<polygon points="287.25,242.60 289.45,246.40 287.25,250.20 285.05,246.40"/>
<polygon points="296.00,239.45 298.20,243.25 296.00,247.05 293.80,243.25"/>
<polygon points="304.10,239.45 306.30,243.25 304.10,247.05 301.90,243.25"/>
<polygon points="313.50,261.30 315.70,265.10 313.50,268.90 311.30,265.10"/>
<polygon points="322.25,268.80 324.45,272.60 322.25,276.40 320.05,272.60"/>
<polygon points="331.00,275.70 333.20,279.50 331.00,283.30 328.80,279.50"/>
<polygon points="339.10,279.20 341.30,283.00 339.10,286.80 336.90,283.00"/>
<polygon points="348.50,272.20 350.70,276.00 348.50,279.80 346.30,276.00"/>
<polygon points="357.25,261.30 359.45,265.10 357.25,268.90 355.05,265.10"/>
<polygon points="365.75,247.60 367.95,251.40 365.75,255.20 363.55,251.40"/>
<polygon points="374.75,250.95 376.95,254.75 374.75,258.55 372.55,254.75"/>
<polygon points="383.25,267.20 385.45,271.00 383.25,274.80 381.05,271.00"/>
<polygon points="391.60,277.95 393.80,281.75 391.60,285.55 389.40,281.75"/>
<polygon points="400.40,281.30 402.60,285.10 400.40,288.90 398.20,285.10"/>
<polygon points="409.10,285.70 411.30,289.50 409.10,293.30 406.90,289.50"/>
<polygon points="417.90,273.20 420.10,277.00 417.90,280.80 415.70,277.00"/>
<polygon points="426.60,275.95 428.80,279.75 426.60,283.55 424.40,279.75"/>
<polygon points="435.40,269.10 437.60,272.90 435.40,276.70 433.20,272.90"/>
<polygon points="443.50,260.10 445.70,263.90 443.50,267.70 441.30,263.90"/>
<polygon points="452.25,265.45 454.45,269.25 452.25,273.05 450.05,269.25"/>
<polygon points="461.00,277.60 463.20,281.40 461.00,285.20 458.80,281.40"/>
<polygon points="470.00,276.95 472.20,280.75 470.00,284.55 467.80,280.75"/>
<polygon points="478.50,280.10 480.70,283.90 478.50,287.70 476.30,283.90"/>
<polygon points="487.25,261.95 489.45,265.75 487.25,269.55 485.05,265.75"/>
<polygon points="496.00,265.95 498.20,269.75 496.00,273.55 493.80,269.75"/>
<polygon points="504.50,259.45 506.70,263.25 504.50,267.05 502.30,263.25"/>
<polygon points="513.50,267.60 515.70,271.40 513.50,275.20 511.30,271.40"/>
<polygon points="522.25,273.45 524.45,277.25 522.25,281.05 520.05,277.25"/>
<polygon points="531.00,285.70 533.20,289.50 531.00,293.30 528.80,289.50"/>
<polygon points="539.10,285.70 541.30,289.50 539.10,293.30 536.90,289.50"/>
<polygon points="548.50,279.20 550.70,283.00 548.50,286.80 546.30,283.00"/>
<polygon points="557.25,258.45 559.45,262.25 557.25,266.05 555.05,262.25"/>
<polygon points="565.75,258.20 567.95,262.00 565.75,265.80 563.55,262.00"/>
<polygon points="574.10,250.95 576.30,254.75 574.10,258.55 571.90,254.75"/>
<polygon points="583.25,250.95 585.45,254.75 583.25,258.55 581.05,254.75"/>
<polygon points="591.60,271.30 593.80,275.10 591.60,278.90 589.40,275.10"/>
<polygon points="600.40,264.70 602.60,268.50 600.40,272.30 598.20,268.50"/>
<polygon points="609.10,264.70 611.30,268.50 609.10,272.30 606.90,268.50"/>
<polygon points="617.90,268.20 620.10,272.00 617.90,275.80 615.70,272.00"/>
<polygon points="626.60,258.45 628.80,262.25 626.60,266.05 624.40,262.25"/>
<polygon points="634.75,247.80 636.95,251.60 634.75,255.40 632.55,251.60"/>
<polygon points="644.10,230.70 646.30,234.50 644.10,238.30 641.90,234.50"/>
<polygon points="652.25,230.70 654.45,234.50 652.25,238.30 650.05,234.50"/>
<polygon points="661.60,250.10 663.80,253.90 661.60,257.70 659.40,253.90"/>
<polygon points="670.40,265.10 672.60,268.90 670.40,272.70 668.20,268.90"/>
<polygon points="678.50,269.45 680.70,273.25 678.50,277.05 676.30,273.25"/>
<polygon points="687.25,269.45 689.45,273.25 687.25,277.05 685.05,273.25"/>
<polygon points="696.00,264.20 698.20,268.00 696.00,271.80 693.80,268.00"/>
<polygon points="704.75,262.60 706.95,266.40 704.75,270.20 702.55,266.40"/>
<polygon points="713.60,258.60 715.80,262.40 713.60,266.20 711.40,262.40"/>
<polygon points="722.40,250.40 724.60,254.20 722.40,258.00 720.20,254.20"/>
<polygon points="731.40,262.60 733.60,266.40 731.40,270.20 729.20,266.40"/>
<polygon points="739.60,263.20 741.80,267.00 739.60,270.80 737.40,267.00"/>
<polygon points="748.50,269.70 750.70,273.50 748.50,277.30 746.30,273.50"/>
<polygon points="757.40,271.45 759.60,275.25 757.40,279.05 755.20,275.25"/>
<polygon points="765.70,265.30 767.90,269.10 765.70,272.90 763.50,269.10"/>
<polygon points="774.00,250.70 776.20,254.50 774.00,258.30 771.80,254.50"/>
</g>
<g fill="#000" shape-rendering="crispEdges">
<rect x="86" y="73" width="2" height="480"/>
<rect x="773" y="73" width="2" height="480"/>
<rect x="86" y="73" width="689" height="2"/>
<rect x="86" y="147" width="689" height="2"/>
<rect x="86" y="220" width="689" height="2"/>
<rect x="86" y="294" width="689" height="2"/>
<rect x="86" y="367" width="689" height="2"/>
<rect x="86" y="441" width="689" height="2"/>
<rect x="86" y="551" width="689" height="2"/>
<rect x="113" y="70" width="1" height="3"/>
<rect x="113" y="553" width="1" height="3"/>
<rect x="182" y="70" width="1" height="3"/>
<rect x="182" y="553" width="1" height="3"/>
<rect x="252" y="70" width="1" height="3"/>
<rect x="252" y="553" width="1" height="3"/>
<rect x="322" y="70" width="1" height="3"/>
<rect x="322" y="553" width="1" height="3"/>
<rect x="391" y="70" width="1" height="3"/>
<rect x="391" y="553" width="1" height="3"/>
<rect x="461" y="70" width="1" height="3"/>
<rect x="461" y="553" width="1" height="3"/>
<rect x="530" y="70" width="1" height="3"/>
<rect x="530" y="553" width="1" height="3"/>
<rect x="600" y="70" width="1" height="3"/>
<rect x="600" y="553" width="1" height="3"/>
<rect x="670" y="70" width="1" height="3"/>
<rect x="670" y="553" width="1" height="3"/>
<rect x="739" y="70" width="1" height="3"/>
<rect x="739" y="553" width="1" height="3"/>
<rect x="83" y="159" width="3" height="1"/>
<rect x="83" y="185" width="3" height="1"/>
<rect x="83" y="210" width="3" height="1"/>
<rect x="83" y="261" width="3" height="1"/>
<rect x="83" y="306" width="3" height="1"/>
<rect x="83" y="318" width="3" height="1"/>
<rect x="83" y="331" width="3" height="1"/>
<rect x="83" y="343" width="3" height="1"/>
<rect x="83" y="355" width="3" height="1"/>
<rect x="83" y="382" width="3" height="1"/>
<rect x="83" y="397" width="3" height="1"/>
<rect x="83" y="412" width="3" height="1"/>
<rect x="83" y="427" width="3" height="1"/>
<rect x="83" y="455" width="3" height="1"/>
<rect x="83" y="487" width="3" height="1"/>
<rect x="83" y="519" width="3" height="1"/>
<rect x="83" y="551" width="3" height="1"/>
<rect x="83" y="367" width="3" height="1"/>
</g>
<g shape-rendering="crispEdges">
<rect x="88" y="548" width="2" height="3" fill="#00e000"/>
<rect x="86" y="549" width="2.5" height="2.5" fill="#ff3040"/>
<rect x="111" y="550" width="5" height="1" fill="#00e000"/>
<rect x="145" y="549" width="6" height="2" fill="#00e000"/>
<rect x="147" y="549" width="3" height="3" fill="#ff3040"/>
<rect x="154" y="550" width="6" height="1" fill="#00e000"/>
<rect x="156" y="550" width="2" height="2" fill="#ff3040"/>
<rect x="216" y="550" width="2.5" height="1" fill="#ff3040"/>
<rect x="224" y="550" width="5" height="1" fill="#00e000"/>
<rect x="225" y="550" width="3" height="1.5" fill="#ff3040"/>
<rect x="775" y="92.6" width="1" height="6.200000000000003" fill="#00a0ff"/>
<rect x="775" y="112" width="1" height="10.599999999999994" fill="#00a0ff"/>
<rect x="775" y="133.8" width="1" height="13.199999999999989" fill="#00a0ff"/>
</g>
<text x="13.47" y="19.60" font-size="21.71" fill="#000" stroke="#000" stroke-width="0.8" textLength="38.83" lengthAdjust="spacingAndGlyphs">GFS</text>
<rect x="66.8" y="12" width="12" height="2" fill="#000"/>
<text x="92.10" y="19.60" font-size="21.71" fill="#000" stroke="#000" stroke-width="0.8" textLength="132.71" lengthAdjust="spacingAndGlyphs">Meteogramm</text>
<text x="434.79" y="19.55" font-size="20.29" fill="#000" stroke="#000" stroke-width="0.7" textLength="44.87" lengthAdjust="spacingAndGlyphs">Lon:</text>
<text x="491.52" y="19.55" font-size="20.29" fill="#000" stroke="#000" stroke-width="0.7" textLength="84.02" lengthAdjust="spacingAndGlyphs">10.0000</text>
<text x="585.79" y="19.55" font-size="20.29" fill="#000" stroke="#000" stroke-width="0.7" textLength="39.88" lengthAdjust="spacingAndGlyphs">Lat:</text>
<text x="637.14" y="19.55" font-size="20.29" fill="#000" stroke="#000" stroke-width="0.7" textLength="84.41" lengthAdjust="spacingAndGlyphs">53.0000</text>
<text x="733.95" y="19.55" font-size="20.29" fill="#000" stroke="#000" stroke-width="0.7" textLength="41.03" lengthAdjust="spacingAndGlyphs">Hgt:</text>
<text x="786.24" y="19.55" font-size="20.29" fill="#000" stroke="#000" stroke-width="0.7" textLength="14.22" lengthAdjust="spacingAndGlyphs">8</text>
<text x="6.77" y="41.62" font-size="10.38" fill="#000" stroke="#000" stroke-width="0.35" textLength="28.71" lengthAdjust="spacingAndGlyphs">Lauf:</text>
<text x="43.03" y="41.62" font-size="10.38" fill="#000" stroke="#000" stroke-width="0.35" textLength="20.47" lengthAdjust="spacingAndGlyphs">12Z</text>
<text x="96.88" y="68.83" font-size="13.50" fill="#000" stroke="#000" stroke-width="0.35" textLength="32.45" lengthAdjust="spacingAndGlyphs">12<tspan style="font-family:Liberation Sans,sans-serif;font-weight:400" stroke-width="0.1">J</tspan>UL</text>
<text x="96.88" y="567.83" font-size="13.50" fill="#000" stroke="#000" stroke-width="0.35" textLength="32.45" lengthAdjust="spacingAndGlyphs">12<tspan style="font-family:Liberation Sans,sans-serif;font-weight:400" stroke-width="0.1">J</tspan>UL</text>
<text x="166.44" y="68.83" font-size="13.50" fill="#000" stroke="#000" stroke-width="0.35" textLength="32.45" lengthAdjust="spacingAndGlyphs">13<tspan style="font-family:Liberation Sans,sans-serif;font-weight:400" stroke-width="0.1">J</tspan>UL</text>
<text x="166.44" y="567.83" font-size="13.50" fill="#000" stroke="#000" stroke-width="0.35" textLength="32.45" lengthAdjust="spacingAndGlyphs">13<tspan style="font-family:Liberation Sans,sans-serif;font-weight:400" stroke-width="0.1">J</tspan>UL</text>
<text x="236.00" y="68.83" font-size="13.50" fill="#000" stroke="#000" stroke-width="0.35" textLength="32.45" lengthAdjust="spacingAndGlyphs">14<tspan style="font-family:Liberation Sans,sans-serif;font-weight:400" stroke-width="0.1">J</tspan>UL</text>
<text x="236.00" y="567.83" font-size="13.50" fill="#000" stroke="#000" stroke-width="0.35" textLength="32.45" lengthAdjust="spacingAndGlyphs">14<tspan style="font-family:Liberation Sans,sans-serif;font-weight:400" stroke-width="0.1">J</tspan>UL</text>
<text x="305.56" y="68.83" font-size="13.50" fill="#000" stroke="#000" stroke-width="0.35" textLength="32.45" lengthAdjust="spacingAndGlyphs">15<tspan style="font-family:Liberation Sans,sans-serif;font-weight:400" stroke-width="0.1">J</tspan>UL</text>
<text x="305.56" y="567.83" font-size="13.50" fill="#000" stroke="#000" stroke-width="0.35" textLength="32.45" lengthAdjust="spacingAndGlyphs">15<tspan style="font-family:Liberation Sans,sans-serif;font-weight:400" stroke-width="0.1">J</tspan>UL</text>
<text x="375.12" y="68.83" font-size="13.50" fill="#000" stroke="#000" stroke-width="0.35" textLength="32.45" lengthAdjust="spacingAndGlyphs">16<tspan style="font-family:Liberation Sans,sans-serif;font-weight:400" stroke-width="0.1">J</tspan>UL</text>
<text x="375.12" y="567.83" font-size="13.50" fill="#000" stroke="#000" stroke-width="0.35" textLength="32.45" lengthAdjust="spacingAndGlyphs">16<tspan style="font-family:Liberation Sans,sans-serif;font-weight:400" stroke-width="0.1">J</tspan>UL</text>
<text x="444.68" y="68.83" font-size="13.50" fill="#000" stroke="#000" stroke-width="0.35" textLength="32.45" lengthAdjust="spacingAndGlyphs">17<tspan style="font-family:Liberation Sans,sans-serif;font-weight:400" stroke-width="0.1">J</tspan>UL</text>
<text x="444.68" y="567.83" font-size="13.50" fill="#000" stroke="#000" stroke-width="0.35" textLength="32.45" lengthAdjust="spacingAndGlyphs">17<tspan style="font-family:Liberation Sans,sans-serif;font-weight:400" stroke-width="0.1">J</tspan>UL</text>
<text x="514.24" y="68.83" font-size="13.50" fill="#000" stroke="#000" stroke-width="0.35" textLength="32.45" lengthAdjust="spacingAndGlyphs">18<tspan style="font-family:Liberation Sans,sans-serif;font-weight:400" stroke-width="0.1">J</tspan>UL</text>
<text x="514.24" y="567.83" font-size="13.50" fill="#000" stroke="#000" stroke-width="0.35" textLength="32.45" lengthAdjust="spacingAndGlyphs">18<tspan style="font-family:Liberation Sans,sans-serif;font-weight:400" stroke-width="0.1">J</tspan>UL</text>
<text x="583.80" y="68.83" font-size="13.50" fill="#000" stroke="#000" stroke-width="0.35" textLength="32.45" lengthAdjust="spacingAndGlyphs">19<tspan style="font-family:Liberation Sans,sans-serif;font-weight:400" stroke-width="0.1">J</tspan>UL</text>
<text x="583.80" y="567.83" font-size="13.50" fill="#000" stroke="#000" stroke-width="0.35" textLength="32.45" lengthAdjust="spacingAndGlyphs">19<tspan style="font-family:Liberation Sans,sans-serif;font-weight:400" stroke-width="0.1">J</tspan>UL</text>
<text x="653.83" y="68.83" font-size="13.50" fill="#000" stroke="#000" stroke-width="0.35" textLength="31.98" lengthAdjust="spacingAndGlyphs">20<tspan style="font-family:Liberation Sans,sans-serif;font-weight:400" stroke-width="0.1">J</tspan>UL</text>
<text x="653.83" y="567.83" font-size="13.50" fill="#000" stroke="#000" stroke-width="0.35" textLength="31.98" lengthAdjust="spacingAndGlyphs">20<tspan style="font-family:Liberation Sans,sans-serif;font-weight:400" stroke-width="0.1">J</tspan>UL</text>
<text x="723.39" y="68.83" font-size="13.50" fill="#000" stroke="#000" stroke-width="0.35" textLength="31.98" lengthAdjust="spacingAndGlyphs">21<tspan style="font-family:Liberation Sans,sans-serif;font-weight:400" stroke-width="0.1">J</tspan>UL</text>
<text x="723.39" y="567.83" font-size="13.50" fill="#000" stroke="#000" stroke-width="0.35" textLength="31.98" lengthAdjust="spacingAndGlyphs">21<tspan style="font-family:Liberation Sans,sans-serif;font-weight:400" stroke-width="0.1">J</tspan>UL</text>
<text x="99.30" y="55.83" font-size="12.27" fill="#000" stroke="#000" stroke-width="0.35" textLength="28.59" lengthAdjust="spacingAndGlyphs">2018</text>
<text x="99.30" y="579.83" font-size="12.27" fill="#000" stroke="#000" stroke-width="0.35" textLength="28.59" lengthAdjust="spacingAndGlyphs">2018</text>
<text x="55.85" y="163.32" font-size="10.85" fill="#000" stroke="#000" stroke-width="0.35" textLength="24.88" lengthAdjust="spacingAndGlyphs">1020</text>
<text x="55.84" y="188.82" font-size="10.85" fill="#000" stroke="#000" stroke-width="0.35" textLength="25.08" lengthAdjust="spacingAndGlyphs">1015</text>
<text x="55.85" y="214.32" font-size="10.85" fill="#000" stroke="#000" stroke-width="0.35" textLength="24.88" lengthAdjust="spacingAndGlyphs">1010</text>
<text x="73.73" y="265.12" font-size="10.85" fill="#000" stroke="#000" stroke-width="0.35" textLength="7.39" lengthAdjust="spacingAndGlyphs">5</text>
<text x="68.23" y="310.02" font-size="10.85" fill="#000" stroke="#000" stroke-width="0.35" textLength="12.51" lengthAdjust="spacingAndGlyphs">30</text>
<text x="68.29" y="322.12" font-size="10.85" fill="#000" stroke="#000" stroke-width="0.35" textLength="12.65" lengthAdjust="spacingAndGlyphs">25</text>
<text x="68.30" y="334.93" font-size="10.85" fill="#000" stroke="#000" stroke-width="0.35" textLength="12.43" lengthAdjust="spacingAndGlyphs">20</text>
<text x="67.84" y="347.12" font-size="10.85" fill="#000" stroke="#000" stroke-width="0.35" textLength="13.13" lengthAdjust="spacingAndGlyphs">15</text>
<text x="67.86" y="359.22" font-size="10.85" fill="#000" stroke="#000" stroke-width="0.35" textLength="12.91" lengthAdjust="spacingAndGlyphs">10</text>
<text x="73.73" y="371.82" font-size="10.85" fill="#000" stroke="#000" stroke-width="0.35" textLength="7.39" lengthAdjust="spacingAndGlyphs">5</text>
<text x="68.03" y="386.43" font-size="10.85" fill="#000" stroke="#000" stroke-width="0.35" textLength="12.72" lengthAdjust="spacingAndGlyphs">80</text>
<text x="68.00" y="401.32" font-size="10.85" fill="#000" stroke="#000" stroke-width="0.35" textLength="12.75" lengthAdjust="spacingAndGlyphs">60</text>
<text x="68.51" y="416.22" font-size="10.85" fill="#000" stroke="#000" stroke-width="0.35" textLength="12.21" lengthAdjust="spacingAndGlyphs">40</text>
<text x="68.30" y="431.22" font-size="10.85" fill="#000" stroke="#000" stroke-width="0.35" textLength="12.43" lengthAdjust="spacingAndGlyphs">20</text>
<text x="67.84" y="459.32" font-size="10.85" fill="#000" stroke="#000" stroke-width="0.35" textLength="13.13" lengthAdjust="spacingAndGlyphs">15</text>
<text x="67.86" y="491.32" font-size="10.85" fill="#000" stroke="#000" stroke-width="0.35" textLength="12.91" lengthAdjust="spacingAndGlyphs">10</text>
<text x="73.73" y="523.53" font-size="10.85" fill="#000" stroke="#000" stroke-width="0.35" textLength="7.39" lengthAdjust="spacingAndGlyphs">5</text>
<text x="73.90" y="555.33" font-size="10.85" fill="#000" stroke="#000" stroke-width="0.35" textLength="6.94" lengthAdjust="spacingAndGlyphs">0</text>
<rect x="29" y="84" width="17" height="53" fill="#00a0ff"/>
<text transform="translate(42.06,137.23) rotate(-90)" x="0" y="0" font-size="13.23" fill="#fff" stroke="#fff" textLength="52.37" lengthAdjust="spacingAndGlyphs">Wolken (%)</text>
<text transform="translate(26.99,211.83) rotate(-90)" x="0" y="0" font-size="12.75" fill="#000" stroke="#000" textLength="54.62" lengthAdjust="spacingAndGlyphs">Bodendruck</text>
<text transform="translate(52.93,198.85) rotate(-90)" x="0" y="0" font-size="15.70" fill="#000" stroke="#000" textLength="27.63" lengthAdjust="spacingAndGlyphs">(hPa)</text>
<text transform="translate(27.31,291.22) rotate(-90)" x="0" y="0" font-size="13.70" fill="#00c000" stroke="#00c000" textLength="66.33" lengthAdjust="spacingAndGlyphs">Wind Geschwi.</text>
<text transform="translate(41.23,284.10) rotate(-90)" x="0" y="0" font-size="11.89" fill="#000" stroke="#000" textLength="52.44" lengthAdjust="spacingAndGlyphs">Windfahnen</text>
<text transform="translate(59.94,267.54) rotate(-90)" x="0" y="0" font-size="15.59" fill="#000" stroke="#000" textLength="18.21" lengthAdjust="spacingAndGlyphs">(kt)</text>
<text transform="translate(26.37,367.23) rotate(-90)" x="0" y="0" font-size="14.00" fill="#2040ff" stroke="#2040ff" textLength="31.41" lengthAdjust="spacingAndGlyphs">T-Min,</text>
<text transform="translate(27.80,332.52) rotate(-90)" x="0" y="0" font-size="14.00" fill="#ff3030" stroke="#ff3030" textLength="18.32" lengthAdjust="spacingAndGlyphs">Max</text>
<text transform="translate(39.75,356.89) rotate(-90)" x="0" y="0" font-size="10.33" fill="#000" stroke="#000" textLength="41.40" lengthAdjust="spacingAndGlyphs">Taupunkt</text>
<text transform="translate(60.19,339.56) rotate(-90)" x="0" y="0" font-size="16.04" fill="#000" stroke="#000" textLength="15.65" lengthAdjust="spacingAndGlyphs">(C)</text>
<text transform="translate(25.69,432.11) rotate(-90)" x="0" y="0" font-size="13.00" fill="#00c000" stroke="#00c000" textLength="53.46" lengthAdjust="spacingAndGlyphs">2m RF (%)</text>
<text transform="translate(26.64,527.51) rotate(-90)" x="0" y="0" font-size="12.30" fill="#000" stroke="#000" textLength="59.43" lengthAdjust="spacingAndGlyphs">Niederschlag</text>
<text transform="translate(48.96,511.11) rotate(-90)" x="0" y="0" font-size="14.69" fill="#000" stroke="#000" textLength="27.65" lengthAdjust="spacingAndGlyphs">(mm)</text>
<text transform="translate(59.10,134.10) rotate(-90)" x="0" y="0" font-size="12.50" fill="#000" stroke="#000" textLength="5.93" lengthAdjust="spacingAndGlyphs">L</text>
<text transform="translate(58.92,122.92) rotate(-90)" x="0" y="0" font-size="12.50" fill="#000" stroke="#000" textLength="5.61" lengthAdjust="spacingAndGlyphs">e</text>
<text transform="translate(59.10,112.44) rotate(-90)" x="0" y="0" font-size="12.50" fill="#000" stroke="#000" textLength="4.07" lengthAdjust="spacingAndGlyphs">v</text>
<text transform="translate(58.92,102.34) rotate(-90)" x="0" y="0" font-size="12.50" fill="#000" stroke="#000" textLength="5.75" lengthAdjust="spacingAndGlyphs">e</text>
<text transform="translate(59.10,91.55) rotate(-90)" x="0" y="0" font-size="12.5" fill="#000" stroke="#000">l</text>
<text x="61.08" y="91.33" font-size="12.27" fill="#000" stroke="#000" stroke-width="0.35" textLength="22.91" lengthAdjust="spacingAndGlyphs">Hoch</text>
<text x="60.80" y="115.62" font-size="12.27" fill="#000" stroke="#000" stroke-width="0.35" textLength="24.15" lengthAdjust="spacingAndGlyphs">Mittel</text>
<text x="65.69" y="140.52" font-size="12.27" fill="#000" stroke="#000" stroke-width="0.35" textLength="15.46" lengthAdjust="spacingAndGlyphs">Tief</text>
<text x="72.58" y="600.53" font-size="15.10" fill="#000" stroke="#000" stroke-width="0.35" textLength="104.80" lengthAdjust="spacingAndGlyphs">Sonnenaufgang</text>
<text x="185.72" y="600.53" font-size="15.10" fill="#000" stroke="#000" stroke-width="0.35" textLength="37.07" lengthAdjust="spacingAndGlyphs">heute</text>
<text x="230.54" y="600.53" font-size="15.10" fill="#000" stroke="#000" stroke-width="0.35" textLength="39.78" lengthAdjust="spacingAndGlyphs">03:06</text>
<text x="277.73" y="600.53" font-size="15.10" fill="#000" stroke="#000" stroke-width="0.35" textLength="26.29" lengthAdjust="spacingAndGlyphs">UTC</text>
<text x="72.58" y="618.62" font-size="15.10" fill="#000" stroke="#000" stroke-width="0.35" textLength="119.40" lengthAdjust="spacingAndGlyphs">Sonnenuntergang</text>
<text x="198.82" y="618.62" font-size="15.10" fill="#000" stroke="#000" stroke-width="0.35" textLength="37.18" lengthAdjust="spacingAndGlyphs">heute</text>
<text x="244.34" y="618.62" font-size="15.10" fill="#000" stroke="#000" stroke-width="0.35" textLength="40.18" lengthAdjust="spacingAndGlyphs">19:42</text>
<text x="290.73" y="618.62" font-size="15.10" fill="#000" stroke="#000" stroke-width="0.35" textLength="26.40" lengthAdjust="spacingAndGlyphs">UTC</text>
<text x="582.27" y="622.83" font-size="15.10" fill="#000" stroke="#000" stroke-width="0.35" textLength="148.52" lengthAdjust="spacingAndGlyphs">www.wetterzentrale.de</text>
</svg></body></html>
